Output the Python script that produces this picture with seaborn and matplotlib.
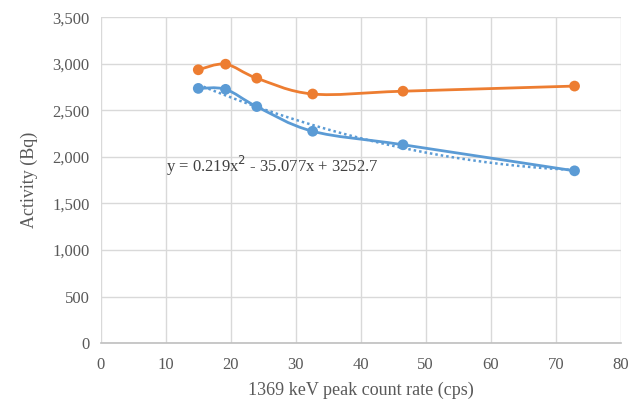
import numpy as np
import pandas as pd
import matplotlib
matplotlib.use("Agg")
import matplotlib.pyplot as plt
import seaborn as sns
from matplotlib.path import Path
from matplotlib.patches import PathPatch

# Peak count rate (cps) and measured activities (Bq)
count_rate = [15.0, 19.2, 24.0, 32.6, 46.5, 72.9]
activity_orange = [2935, 2995, 2845, 2675, 2705, 2760]
activity_blue = [2735, 2725, 2540, 2275, 2130, 1850]

# Quadratic trendline of the blue series, as printed on the chart
trend_coefs = [0.219, -35.077, 3252.7]
trend_label = "y = 0.219x$^2$ - 35.077x + 3252.7"

x_ticks = [0, 10, 20, 30, 40, 50, 60, 70, 80]
y_ticks = [0, 500, 1000, 1500, 2000, 2500, 3000, 3500]

ORANGE = "#ED7D31"
BLUE = "#5B9BD5"
GRID = "#D9D9D9"
TEXT = "#595959"

sns.set_theme(style="white")
plt.rcParams["font.family"] = ["Liberation Serif", "DejaVu Serif"]

fig = plt.figure(figsize=(6.34, 3.99), dpi=100)
ax = fig.add_axes([0.159, 0.140, 0.820, 0.817])


def smooth_path(xs, ys):
    """Bezier path through the points (Catmull-Rom style smoothing)."""
    pts = np.column_stack([xs, ys]).astype(float)
    n = len(pts)
    verts = [pts[0]]
    codes = [Path.MOVETO]
    for i in range(n - 1):
        p0 = pts[i - 1] if i > 0 else pts[i]
        p1 = pts[i]
        p2 = pts[i + 1]
        p3 = pts[i + 2] if i + 2 < n else pts[i + 1]
        c1 = p1 + (p2 - p0) / 6.0
        c2 = p2 - (p3 - p1) / 6.0
        verts += [c1, c2, p2]
        codes += [Path.CURVE4] * 3
    return Path(verts, codes)


df = pd.DataFrame({
    "rate": count_rate * 2,
    "activity": activity_orange + activity_blue,
    "series": ["orange"] * len(count_rate) + ["blue"] * len(count_rate),
})

for vals, col in [(activity_orange, ORANGE), (activity_blue, BLUE)]:
    ax.add_patch(PathPatch(smooth_path(count_rate, vals), fill=False,
                           edgecolor=col, linewidth=2.0, zorder=3,
                           capstyle="round", joinstyle="round"))

# Trendline
xt = np.linspace(min(count_rate), max(count_rate), 200)
ax.plot(xt, np.polyval(trend_coefs, xt), color=BLUE, linewidth=1.8,
        linestyle=(0, (1, 1.2)), zorder=2.5)

sns.scatterplot(data=df, x="rate", y="activity", hue="series",
                palette={"orange": ORANGE, "blue": BLUE}, s=60,
                edgecolor="none", legend=False, ax=ax, zorder=4)

ax.text(10.1, 1900, trend_label, fontsize=12, color="#404040",
        ha="left", va="center", zorder=5)

ax.set_xlim(0, 80)
ax.set_ylim(0, 3500)
ax.set_xticks(x_ticks)
ax.set_yticks(y_ticks)
ax.set_yticklabels([f"{v:,}" for v in y_ticks])
ax.grid(True, color=GRID, linewidth=1.0)
ax.set_axisbelow(True)
for side in ["top", "right", "left"]:
    ax.spines[side].set_visible(False)
ax.spines["bottom"].set_color("#BFBFBF")
ax.spines["bottom"].set_linewidth(1.2)
ax.tick_params(axis="both", length=0, labelsize=12, colors=TEXT)
ax.tick_params(axis="x", pad=10)
ax.tick_params(axis="y", pad=8)

ax.set_xlabel("1369 keV peak count rate (cps)", fontsize=13, color=TEXT,
              labelpad=6)
ax.set_ylabel("Activity (Bq)", fontsize=13, color=TEXT, labelpad=10)

fig.savefig("out.png", dpi=100, facecolor="white")
